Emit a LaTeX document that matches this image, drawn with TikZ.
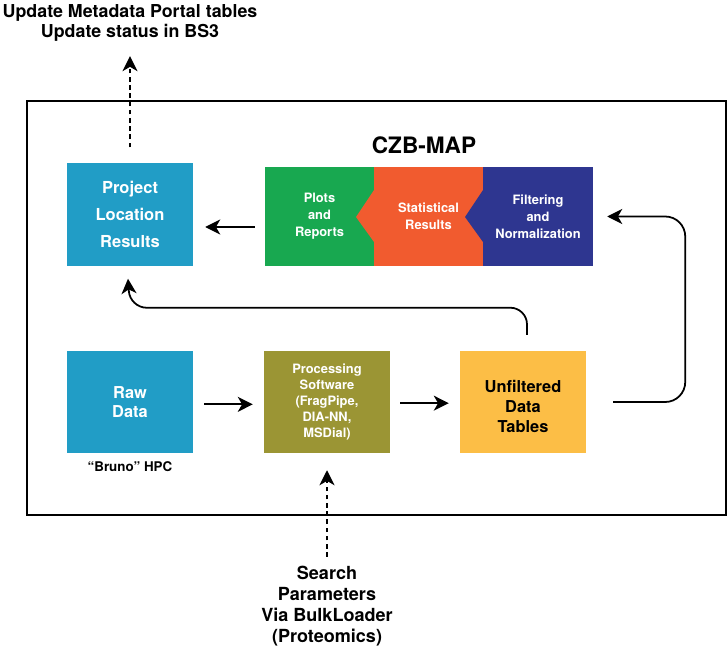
\documentclass[tikz,border=0pt]{standalone}
\usepackage{fontspec}
\setmainfont{TeX Gyre Heros}
\usepackage{xcolor}
\usetikzlibrary{arrows.meta}
\definecolor{boxcyan}{RGB}{33,157,198}
\definecolor{plotgreen}{RGB}{24,168,80}
\definecolor{statorange}{RGB}{241,91,47}
\definecolor{filtblue}{RGB}{46,54,144}
\definecolor{procolive}{RGB}{155,149,52}
\definecolor{tableyellow}{RGB}{252,190,70}

\begin{document}
\begin{tikzpicture}[x=0.03cm,y=-0.03cm,
    box/.style={minimum width=3.78cm, minimum height=3.06cm, inner sep=0pt, align=center},
    strip/.style={minimum width=3.28cm, minimum height=2.97cm, inner sep=0pt, align=center, text=white,
        font=\bfseries\fontsize{11}{14.5}\selectfont},
    link/.style={-{Stealth[length=0.45cm,width=0.45cm,inset=0.13cm]}, line width=1.5pt},
    dashlink/.style={link, dash pattern=on 4pt off 3pt}]
    \useasboundingbox (0,0) rectangle (728,654);

    % outer frame
    \draw[line width=1.5pt] (27,101) rectangle (726,515);

    % top row
    \node[box, fill=boxcyan, text=white, font=\bfseries\fontsize{14.1}{23}\selectfont] (proj) at (130,214.5) {Project\\Location\\Results};
    \node[font=\bfseries\fontsize{19.3}{22}\selectfont] (czb) at (424,145) {CZB-MAP};
    \node[strip, fill=plotgreen] (plots) at (319.5,216.5) {Plots\\and\\Reports};
    \node[strip, fill=statorange] (stat) at (428.5,216.5) {Statistical\\Results};
    \node[strip, fill=filtblue, minimum width=3.3cm] (filt) at (538,216.5) {Filtering\\and\\Normalization};
    % chevron notches
    \foreach \nx/\col in {374/statorange, 483/filtblue}
        \fill[\col] (\nx,190) -- (\nx-18,217) -- (\nx,242) -- cycle;

    \node[inner sep=0pt, align=center, font=\bfseries\fontsize{15.2}{17.1}\selectfont] (upd) at (130,22.5)
        {Update Metadata Portal tables\\Update status in BS3};

    % bottom row
    \node[box, fill=boxcyan, text=white, font=\bfseries\fontsize{14}{16.6}\selectfont] (raw) at (130,402) {Raw\\Data};
    \node[font=\bfseries\fontsize{11.4}{13}\selectfont] (bruno) at (130,467) {“Bruno” HPC};
    \node[box, fill=procolive, text=white, font=\bfseries\fontsize{11}{13.7}\selectfont] (proc) at (327,402)
        {Processing\\Software\\(FragPipe,\\DIA-NN,\\MSDial)};
    \node[box, fill=tableyellow, text=black, font=\bfseries\fontsize{14}{17}\selectfont] (unf) at (523,402) {\rule{0pt}{18pt}Unfiltered\\Data\\Tables};

    \node[inner sep=0pt, align=center, font=\bfseries\fontsize{15.4}{17.9}\selectfont] (srch) at (327,606)
        {Search\\Parameters\\Via BulkLoader\\(Proteomics)};

    % connectors
    \draw[link] ([shift={(-10,10.5)}]plots.west) -- ([shift={(12,12.5)}]proj.east);
    \draw[link, shorten <=0.33cm, shorten >=0.33cm] ([yshift=-2pt]raw.east) -- ([yshift=-2pt]proc.west);
    \draw[link, shorten <=0.3cm, shorten >=0.33cm] ([yshift=-1pt]proc.east) -- ([yshift=-1pt]unf.west);
    \draw[link, rounded corners=0.5cm] ([shift={(4,-16)}]unf.north) |- ([shift={(0,42)}]proj.south) -- ([shift={(-2,13)}]proj.south);
    \draw[link, rounded corners=0.6cm] ([shift={(27,0)}]unf.east) -- ++(72,0) |- ([shift={(14,0)}]filt.east);
    \draw[dashlink, shorten <=0.48cm, shorten >=0.45cm] (proj.north) -- (proj.north |- upd.south);
    \draw[dashlink, shorten <=0.27cm, shorten >=0.51cm] (srch.north) -- (proc.south);
\end{tikzpicture}
\end{document}
